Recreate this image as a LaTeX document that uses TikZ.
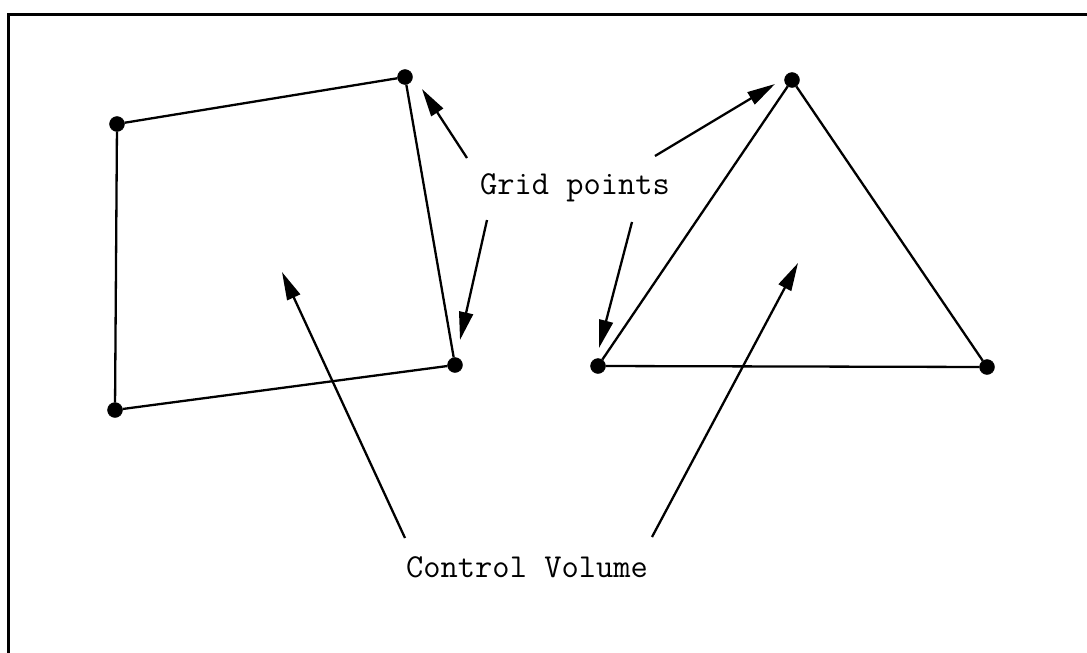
\documentclass[tikz,border=0pt]{standalone}
\usetikzlibrary{arrows.meta}
\begin{document}
\begin{tikzpicture}[x=1pt,y=-1pt,
  dot/.style={circle,fill=black,draw=black,inner sep=0pt,minimum size=15pt},
  edge/.style={line width=2.3pt},
  pointer/.style={line width=2.3pt,-{Triangle[length=28pt,width=14pt]}},
  label/.style={font=\fontsize{33.5}{36}\selectfont\ttfamily,inner sep=0pt}]
\useasboundingbox (0,0) rectangle (1087,653);
\draw[line width=3pt] (8,653) -- (8,14) -- (1087,14);
% square
\node[dot] (p1) at (117,124) {};
\node[dot] (p2) at (405,77) {};
\node[dot] (p3) at (455,365) {};
\node[dot] (p4) at (115,410) {};
\draw[edge] (p1) -- (p2) -- (p3) -- (p4) -- (p1);
% triangle
\node[dot] (t1) at (792,80) {};
\node[dot] (t2) at (598,366) {};
\node[dot] (t3) at (987,367) {};
\draw[edge] (t1) -- (t2) -- (t3) -- (t1);
% labels
\node[label] (gp) at (575,188) {Grid points};
\node[label] (cv) at (527,567) {Control Volume};
% arrows
\coordinate (a1s) at (467,158); \coordinate (a1e) at (422,89);
\coordinate (a2s) at (487,220); \coordinate (a2e) at (460,340);
\coordinate (a3s) at (655,156); \coordinate (a3e) at (775,84);
\coordinate (a4s) at (632,222); \coordinate (a4e) at (599,348);
\coordinate (a5s) at (405,538); \coordinate (a5e) at (282,272);
\coordinate (a6s) at (652,537); \coordinate (a6e) at (798,263);
\foreach \s/\e in {a1s/a1e,a2s/a2e,a3s/a3e,a4s/a4e,a5s/a5e,a6s/a6e}
  \draw[pointer] (\s) -- (\e);
\end{tikzpicture}
\end{document}
